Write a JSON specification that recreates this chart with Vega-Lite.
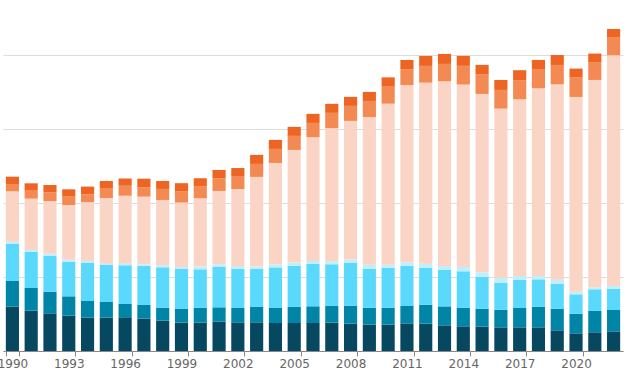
{
  "$schema": "https://vega.github.io/schema/vega-lite/v6.json",
  "width": 620,
  "height": 351,
  "autosize": {"type": "none"},
  "padding": {"left": 3, "right": 3, "top": 0, "bottom": 20},
  "background": "white",
  "config": {"view": {"stroke": null}, "font": "DejaVu Sans"},
  "data": {
    "values": [
      {"year": 1990, "c1": 60.0, "c2": 34.7, "c3": 50.1, "c4": 3.2, "c5": 68.1, "c6": 9.9, "c7": 9.9},
      {"year": 1991, "c1": 54.6, "c2": 30.7, "c3": 48.7, "c4": 2.7, "c5": 69.5, "c6": 11.7, "c7": 9.0},
      {"year": 1992, "c1": 51.0, "c2": 29.3, "c3": 48.7, "c4": 2.7, "c5": 71.3, "c6": 11.7, "c7": 9.9},
      {"year": 1993, "c1": 47.8, "c2": 26.2, "c3": 46.9, "c4": 2.7, "c5": 74.0, "c6": 11.3, "c7": 9.9},
      {"year": 1994, "c1": 45.1, "c2": 22.6, "c3": 51.9, "c4": 2.3, "c5": 79.4, "c6": 10.8, "c7": 10.4},
      {"year": 1995, "c1": 45.1, "c2": 21.2, "c3": 50.1, "c4": 1.8, "c5": 88.9, "c6": 12.6, "c7": 10.4},
      {"year": 1996, "c1": 45.6, "c2": 18.0, "c3": 52.3, "c4": 2.3, "c5": 92.0, "c6": 13.5, "c7": 9.9},
      {"year": 1997, "c1": 43.8, "c2": 18.5, "c3": 53.2, "c4": 1.8, "c5": 91.6, "c6": 12.6, "c7": 11.7},
      {"year": 1998, "c1": 41.1, "c2": 17.6, "c3": 54.6, "c4": 2.7, "c5": 88.4, "c6": 14.9, "c7": 10.8},
      {"year": 1999, "c1": 38.4, "c2": 19.0, "c3": 54.1, "c4": 2.3, "c5": 87.1, "c6": 14.9, "c7": 11.3},
      {"year": 2000, "c1": 38.4, "c2": 19.9, "c3": 52.3, "c4": 3.6, "c5": 92.5, "c6": 15.8, "c7": 11.3},
      {"year": 2001, "c1": 39.7, "c2": 19.4, "c3": 54.6, "c4": 3.6, "c5": 99.3, "c6": 17.1, "c7": 11.3},
      {"year": 2002, "c1": 38.8, "c2": 19.4, "c3": 53.2, "c4": 3.6, "c5": 104.2, "c6": 17.6, "c7": 10.8},
      {"year": 2003, "c1": 38.8, "c2": 20.8, "c3": 51.4, "c4": 3.2, "c5": 121.4, "c6": 17.6, "c7": 12.2},
      {"year": 2004, "c1": 37.9, "c2": 20.3, "c3": 55.0, "c4": 4.1, "c5": 137.2, "c6": 19.0, "c7": 12.2},
      {"year": 2005, "c1": 37.9, "c2": 21.7, "c3": 55.9, "c4": 4.1, "c5": 152.5, "c6": 19.0, "c7": 12.2},
      {"year": 2006, "c1": 37.9, "c2": 22.6, "c3": 57.3, "c4": 4.1, "c5": 167.4, "c6": 19.4, "c7": 12.2},
      {"year": 2007, "c1": 38.4, "c2": 22.6, "c3": 56.4, "c4": 4.1, "c5": 180.0, "c6": 20.8, "c7": 12.2},
      {"year": 2008, "c1": 37.0, "c2": 24.4, "c3": 58.2, "c4": 4.1, "c5": 187.7, "c6": 20.3, "c7": 12.2},
      {"year": 2009, "c1": 35.6, "c2": 23.0, "c3": 52.8, "c4": 5.4, "c5": 199.9, "c6": 21.7, "c7": 12.2},
      {"year": 2010, "c1": 35.6, "c2": 23.0, "c3": 54.1, "c4": 4.5, "c5": 217.5, "c6": 23.0, "c7": 12.6},
      {"year": 2011, "c1": 37.4, "c2": 23.5, "c3": 54.1, "c4": 5.0, "c5": 240.0, "c6": 21.2, "c7": 12.6},
      {"year": 2012, "c1": 37.0, "c2": 25.7, "c3": 50.1, "c4": 5.4, "c5": 245.0, "c6": 22.6, "c7": 13.5},
      {"year": 2013, "c1": 34.7, "c2": 25.7, "c3": 49.2, "c4": 5.4, "c5": 250.0, "c6": 23.5, "c7": 13.5},
      {"year": 2014, "c1": 33.4, "c2": 25.3, "c3": 49.2, "c4": 5.9, "c5": 246.8, "c6": 25.3, "c7": 13.5},
      {"year": 2015, "c1": 32.9, "c2": 24.4, "c3": 43.3, "c4": 5.9, "c5": 241.4, "c6": 26.2, "c7": 13.1},
      {"year": 2016, "c1": 32.0, "c2": 23.9, "c3": 36.5, "c4": 6.8, "c5": 228.8, "c6": 25.3, "c7": 13.5},
      {"year": 2017, "c1": 32.0, "c2": 26.2, "c3": 38.4, "c4": 5.0, "c5": 239.1, "c6": 25.3, "c7": 14.0},
      {"year": 2018, "c1": 32.0, "c2": 28.0, "c3": 37.0, "c4": 4.5, "c5": 254.0, "c6": 25.3, "c7": 13.1},
      {"year": 2019, "c1": 28.0, "c2": 29.3, "c3": 33.8, "c4": 5.4, "c5": 264.4, "c6": 26.2, "c7": 13.5},
      {"year": 2020, "c1": 23.9, "c2": 26.6, "c3": 26.2, "c4": 3.6, "c5": 263.5, "c6": 26.2, "c7": 12.2},
      {"year": 2021, "c1": 25.3, "c2": 28.9, "c3": 29.3, "c4": 2.7, "c5": 280.6, "c6": 23.5, "c7": 12.2},
      {"year": 2022, "c1": 26.6, "c2": 28.9, "c3": 28.9, "c4": 3.6, "c5": 312.2, "c6": 23.9, "c7": 11.7}
    ]
  },
  "transform": [
    {"fold": ["c1", "c2", "c3", "c4", "c5", "c6", "c7"], "as": ["series", "value"]}
  ],
  "mark": {"type": "bar"},
  "encoding": {
    "x": {
      "field": "year",
      "type": "ordinal",
      "scale": {"paddingInner": 0.3, "paddingOuter": 0.15},
      "axis": {
        "title": null,
        "values": [1990, 1993, 1996, 1999, 2002, 2005, 2008, 2011, 2014, 2017, 2020],
        "labelAngle": 0,
        "tickBand": "extent",
        "labelFontSize": 12,
        "labelColor": "#666666",
        "labelFont": "DejaVu Sans",
        "domainColor": "#888888",
        "tickColor": "#888888",
        "tickSize": 5,
        "labelPadding": 2,
        "grid": false
      }
    },
    "y": {
      "field": "value",
      "type": "quantitative",
      "stack": "zero",
      "scale": {"domain": [0, 475], "nice": false},
      "axis": {
        "title": null,
        "labels": false,
        "ticks": false,
        "domain": false,
        "grid": true,
        "gridColor": "#dddddd",
        "values": [0, 100, 200, 300, 400]
      }
    },
    "color": {
      "field": "series",
      "type": "nominal",
      "scale": {
        "domain": ["c1", "c2", "c3", "c4", "c5", "c6", "c7"],
        "range": ["#05485f", "#0085a6", "#5bd9fc", "#c0eefa", "#fad5c5", "#f38a54", "#ee6422"]
      },
      "legend": null
    },
    "order": {"field": "series", "sort": "ascending"}
  }
}
